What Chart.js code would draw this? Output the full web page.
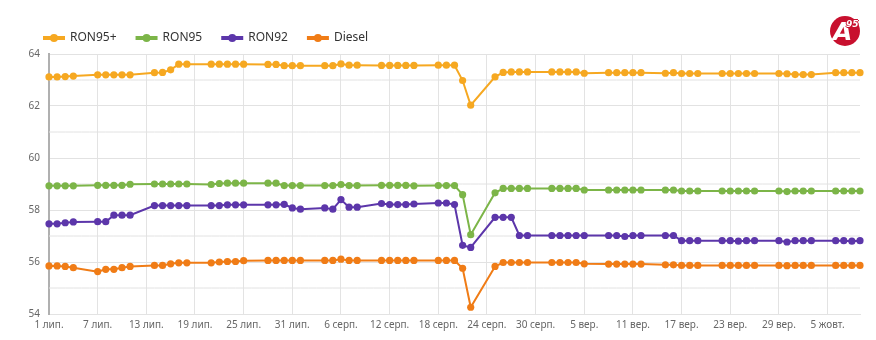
<!DOCTYPE html>
<html>
<head>
<meta charset="utf-8">
<script src="https://cdn.jsdelivr.net/npm/chart.js@4/dist/chart.umd.min.js"></script>
<style>
  body { margin: 0; background: #fff; }
  #wrap { position: relative; width: 876px; height: 340px; }
  #logo {
    position: absolute; left: 830px; top: 16px; width: 30px; height: 30px;
    border-radius: 50%; background: #c8102e; color: #fff;
    font-family: "DejaVu Sans", sans-serif; font-weight: bold;
  }
  #logo .a { position: absolute; left: 3px; top: 1px; font-size: 25px; font-style: italic; }
  #logo .n {
    position: absolute; left: 16px; top: 3px; font-size: 9px; font-style: italic;
    text-shadow: 1px 0 #c8102e, -1px 0 #c8102e, 0 1px #c8102e, 0 -1px #c8102e;
  }
</style>
</head>
<body>
<div id="wrap">
  <canvas id="fuel_chart" width="876" height="340"></canvas>
  <div id="logo"><span class="a">A</span><span class="n">95</span></div>
</div>
<script>
// days from 1 July to 9 October, weekends have no price (null)
const months = [['лип.', 1, 31], ['серп.', 1, 31], ['вер.', 1, 30], ['жовт.', 1, 9]];
const tickEvery = 6;
const yMinorGrid = [55, 57, 59, 61, 63];
const gridColor = '#e2e2e2';

// rows = weeks (first row starts Tue 1 July, last row ends Thu 9 October)
const ron95plus = [
    63.12, 63.12, 63.13, 63.15, null, null,
    63.20, 63.20, 63.20, 63.20, 63.20, null, null,
    63.28, 63.29, 63.39, 63.61, 63.61, null, null,
    63.61, 63.61, 63.61, 63.61, 63.61, null, null,
    63.60, 63.60, 63.55, 63.55, 63.55, null, null,
    63.55, 63.55, 63.62, 63.57, 63.57, null, null,
    63.56, 63.56, 63.56, 63.56, 63.56, null, null,
    63.57, 63.57, 63.57, 62.98, 62.03, null, null,
    63.12, 63.29, 63.31, 63.31, 63.31, null, null,
    63.31, 63.31, 63.31, 63.31, 63.26, null, null,
    63.28, 63.28, 63.28, 63.28, 63.28, null, null,
    63.26, 63.28, 63.25, 63.25, 63.25, null, null,
    63.25, 63.25, 63.25, 63.25, 63.25, null, null,
    63.25, 63.24, 63.21, 63.21, 63.21, null, null,
    63.28, 63.28, 63.28, 63.28
];
const ron95 = [
    58.93, 58.93, 58.93, 58.93, null, null,
    58.95, 58.95, 58.95, 58.95, 58.99, null, null,
    59.00, 59.00, 59.00, 59.00, 59.00, null, null,
    58.98, 59.02, 59.03, 59.03, 59.03, null, null,
    59.03, 59.03, 58.94, 58.94, 58.94, null, null,
    58.94, 58.94, 58.98, 58.94, 58.94, null, null,
    58.95, 58.95, 58.95, 58.95, 58.93, null, null,
    58.94, 58.94, 58.94, 58.59, 57.05, null, null,
    58.66, 58.83, 58.83, 58.83, 58.83, null, null,
    58.83, 58.83, 58.83, 58.83, 58.77, null, null,
    58.77, 58.77, 58.77, 58.77, 58.77, null, null,
    58.77, 58.77, 58.73, 58.73, 58.73, null, null,
    58.73, 58.73, 58.73, 58.73, 58.73, null, null,
    58.73, 58.71, 58.73, 58.73, 58.73, null, null,
    58.73, 58.73, 58.73, 58.73
];
const ron92 = [
    57.47, 57.47, 57.51, 57.54, null, null,
    57.55, 57.55, 57.80, 57.80, 57.80, null, null,
    58.17, 58.17, 58.17, 58.17, 58.17, null, null,
    58.17, 58.17, 58.20, 58.20, 58.20, null, null,
    58.20, 58.20, 58.22, 58.08, 58.03, null, null,
    58.08, 58.03, 58.40, 58.11, 58.11, null, null,
    58.25, 58.21, 58.21, 58.21, 58.23, null, null,
    58.27, 58.27, 58.21, 56.64, 56.56, null, null,
    57.72, 57.72, 57.72, 57.02, 57.02, null, null,
    57.02, 57.02, 57.02, 57.02, 57.02, null, null,
    57.02, 57.02, 56.98, 57.02, 57.02, null, null,
    57.02, 57.02, 56.82, 56.82, 56.82, null, null,
    56.82, 56.82, 56.80, 56.82, 56.82, null, null,
    56.82, 56.77, 56.82, 56.82, 56.82, null, null,
    56.82, 56.82, 56.80, 56.82
];
const diesel = [
    55.85, 55.85, 55.83, 55.78, null, null,
    55.63, 55.72, 55.72, 55.78, 55.83, null, null,
    55.87, 55.87, 55.93, 55.97, 55.97, null, null,
    55.97, 56.00, 56.02, 56.02, 56.05, null, null,
    56.06, 56.06, 56.06, 56.06, 56.06, null, null,
    56.06, 56.06, 56.11, 56.06, 56.06, null, null,
    56.06, 56.06, 56.06, 56.06, 56.06, null, null,
    56.06, 56.06, 56.06, 55.76, 54.26, null, null,
    55.83, 55.98, 55.98, 55.98, 55.98, null, null,
    55.98, 55.98, 55.98, 55.98, 55.93, null, null,
    55.92, 55.92, 55.92, 55.92, 55.92, null, null,
    55.89, 55.89, 55.87, 55.87, 55.87, null, null,
    55.87, 55.87, 55.87, 55.87, 55.87, null, null,
    55.87, 55.86, 55.87, 55.87, 55.87, null, null,
    55.87, 55.87, 55.87, 55.87
];

const series = [
    {name: 'RON95+', data: ron95plus, color: '#f6a821'},
    {name: 'RON95', data: ron95, color: '#7cb548'},
    {name: 'RON92', data: ron92, color: '#5c36aa'},
    {name: 'Diesel', data: diesel, color: '#f07c16'}
];

const labels = [];
for (const m of months) {
    for (let d = m[1]; d <= m[2]; d++) labels.push(d + ' ' + m[0]);
}

const font = "'Noto Sans', sans-serif";
Chart.defaults.font.family = font;

// draws the round marker on top of the legend line
const legendDots = {
    id: 'legendDots',
    afterDraw: (chart) => {
        const ctx = chart.ctx;
        chart.legend.legendHitBoxes.forEach((box, i) => {
            ctx.save();
            ctx.fillStyle = series[i].color;
            ctx.beginPath();
            ctx.arc(box.left + 10, box.top + box.height / 2, 4, 0, Math.PI * 2);
            ctx.fill();
            ctx.restore();
        });
    }
};

const priceSets = series.map(s => ({
    label: s.name,
    data: s.data,
    borderColor: s.color,
    backgroundColor: s.color,
    borderWidth: 2,
    pointRadius: 3.6,
    pointBorderWidth: 0,
    pointBackgroundColor: s.color,
    lineTension: 0,
    spanGaps: true,
    fill: false,
    order: 1
}));

// unlabelled gridlines between the labelled ones, drawn behind the prices
const minorGridSets = yMinorGrid.map(v => ({
    label: 'grid',
    data: labels.map(() => v),
    borderColor: gridColor,
    borderWidth: 1,
    pointRadius: 0,
    fill: false,
    order: 10
}));

new Chart('fuel_chart', {
    type: 'line',
    data: {
        labels: labels,
        datasets: priceSets.concat(minorGridSets)
    },
    options: {
        responsive: false,
        animation: false,
        layout: {padding: {left: 24, right: 16, top: 12, bottom: 4}},
        plugins: {
            legend: {
                align: 'start',
                labels: {
                    boxWidth: 20,
                    boxHeight: 2,
                    padding: 20,
                    color: '#333',
                    font: {size: 12},
                    filter: (item) => item.datasetIndex < series.length
                }
            },
            tooltip: {enabled: false}
        },
        scales: {
            x: {
                grid: {
                    drawTicks: false,
                    color: (c) => c.index % tickEvery === 0 ? '#e3e3e3' : 'rgba(0,0,0,0)'
                },
                border: {color: '#e3e3e3'},
                ticks: {
                    autoSkip: false,
                    maxRotation: 0,
                    padding: 5,
                    color: '#666',
                    font: {size: 10},
                    callback: (v, i) => i % tickEvery === 0 ? labels[i] : ''
                }
            },
            y: {
                min: 54,
                max: 64,
                afterFit: (scale) => { scale.width = 25; },
                grid: {drawTicks: false, color: gridColor},
                border: {color: '#b0b0b0', width: 2},
                ticks: {
                    stepSize: 2,
                    autoSkip: false,
                    padding: 9,
                    font: {size: 10},
                    color: '#666'
                }
            }
        }
    },
    plugins: [legendDots]
});
</script>
</body>
</html>
